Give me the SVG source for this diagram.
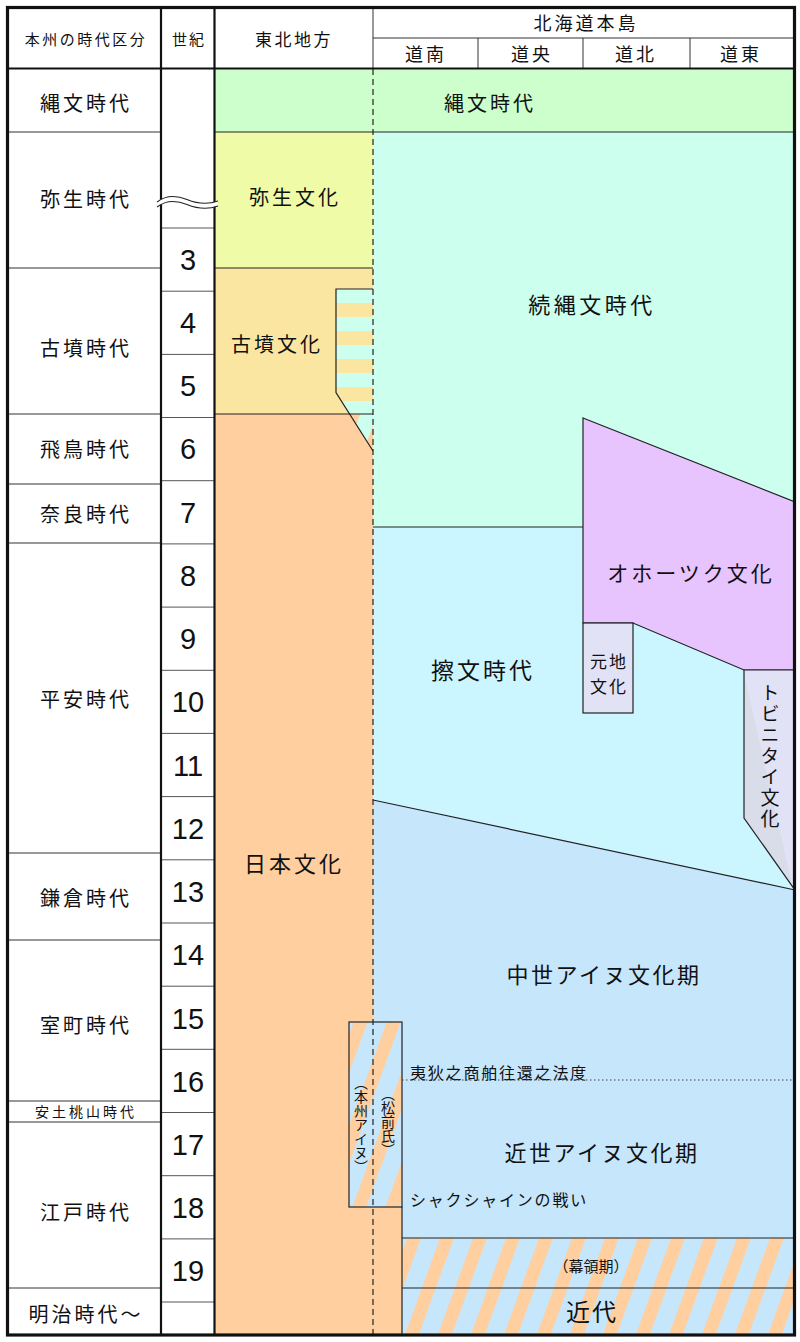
<svg xmlns="http://www.w3.org/2000/svg" width="800" height="1342" viewBox="0 0 800 1342">
<style>
.t{font-family:"Noto Sans CJK JP","Noto Sans",sans-serif;fill:#111;text-anchor:middle;dominant-baseline:central}
.l{text-anchor:start}
.n{font-family:"Liberation Sans","DejaVu Sans",sans-serif;font-size:29px;fill:#111;text-anchor:middle;dominant-baseline:central}
.v{writing-mode:vertical-rl}
.edge{fill:none;stroke:#222;stroke-width:1.2}
.st{stroke:#222;stroke-width:1.2}
.grid{fill:none;stroke:#333;stroke-width:1}
.cent{fill:none;stroke:#555;stroke-width:1}
.thick{fill:none;stroke:#111;stroke-width:2.2}
</style>
<defs>
<pattern id="diagA" patternUnits="userSpaceOnUse" width="31" height="20" patternTransform="rotate(20)">
<rect x="0" y="0" width="31" height="20" fill="#c6e6fc"/>
<rect x="0" y="0" width="13" height="20" fill="#ffcfa0"/>
</pattern>
<pattern id="diagB" patternUnits="userSpaceOnUse" width="31" height="20" patternTransform="rotate(20)">
<rect x="0" y="0" width="31" height="20" fill="#ccffee"/>
<rect x="0" y="0" width="15" height="20" fill="#ffcfa0"/>
</pattern>
<pattern id="horiz" patternUnits="userSpaceOnUse" x="0" y="289" width="40" height="28">
<rect x="0" y="0" width="40" height="14" fill="#ccffee"/>
<rect x="0" y="14" width="40" height="14" fill="#fae6a0"/>
</pattern>
</defs>
<rect x="0" y="0" width="800" height="1342" fill="#ffffff"/>

<g id="jomon">
<rect x="215" y="69" width="580" height="63" fill="#ccffcc"/>
<text class="t" x="490" y="102" font-size="20" letter-spacing="3">縄文時代</text>
</g>
<g id="yayoi">
<rect x="215" y="132" width="158" height="136" fill="#f0fba8"/>
<text class="t" x="295" y="196" font-size="20" letter-spacing="3">弥生文化</text>
</g>
<g id="kofun">
<rect x="215" y="268" width="158" height="146" fill="#fae6a0"/>
<text class="t" x="277" y="343" font-size="20" letter-spacing="3">古墳文化</text>
</g>
<g id="nihon">
<rect x="215" y="414" width="158" height="922" fill="#ffcfa0"/>
<rect x="373" y="1207" width="29" height="129" fill="#ffcfa0"/>
<text class="t" x="294" y="862" font-size="22" letter-spacing="3">日本文化</text>
</g>
<g id="zokujomon">
<rect x="373" y="132" width="422" height="395" fill="#ccffee"/>
<text class="t" x="592" y="303" font-size="22" letter-spacing="3.5">続縄文時代</text>
</g>
<g id="satsumon">
<polygon points="373,527 795,527 795,890 373,800" fill="#ccf6ff"/>
<text class="t" x="483" y="669" font-size="23" letter-spacing="3">擦文時代</text>
</g>
<g id="chusei">
<polygon points="373,800 795,890 795,1238 402,1238 402,1207 373,1207" fill="#c6e6fc"/>
<text class="t" x="604" y="973" font-size="22" letter-spacing="2.5">中世アイヌ文化期</text>
<text class="t" x="602" y="1151" font-size="22" letter-spacing="2.5">近世アイヌ文化期</text>
<text class="t l" x="410" y="1072" font-size="16" letter-spacing="1.8">夷狄之商舶往還之法度</text>
<text class="t l" x="410" y="1199" font-size="16" letter-spacing="1.8">シャクシャインの戦い</text>
</g>
<g id="okhotsk">
<polygon points="583,418 795,502 795,670 744,670 633,623 583,623" fill="#e8c4ff" class="st"/>
<text class="t" x="691" y="572" font-size="21" letter-spacing="3">オホーツク文化</text>
</g>
<g id="motochi">
<rect x="583" y="623" width="50" height="90" fill="#e2e2f6" class="st"/>
<text class="t" x="609" y="660" font-size="17" letter-spacing="2">元地</text>
<text class="t" x="609" y="685" font-size="17" letter-spacing="2">文化</text>
</g>
<g id="tobinitai">
<polygon points="744,670 795,670 795,890 744,818" fill="#e2e2f6"/>
<polygon points="744,674 792,884 744,818" fill="#d8dde9"/>
<polygon points="744,670 795,670 795,890 744,818" class="edge"/>
<text class="t v" x="770" y="757" font-size="19" letter-spacing="2">トビニタイ文化</text>
</g>
<g id="kofun-stripes">
<polygon points="336,289 373,289 373,414 349.6,414 336,392.5" fill="url(#horiz)"/>
<polygon points="349.6,414 373,414 373,451" fill="url(#diagB)"/>
<polyline points="373,289 336,289 336,392.5 373,451" class="edge"/>
</g>
<g id="honshu-ainu">
<rect x="349" y="1022" width="53" height="185" fill="url(#diagA)" class="st"/>
<text class="t v" x="361" y="1125" font-size="14">（本州アイヌ）</text>
<text class="t v" x="388" y="1122" font-size="14">（松前氏）</text>
</g>
<g id="bakuryo">
<rect x="402" y="1238" width="393" height="98" fill="url(#diagA)"/>
<text class="t" x="591" y="1265" font-size="15">（幕領期）</text>
</g>
<g id="kindai">
<text class="t" x="592" y="1310" font-size="24" letter-spacing="2">近代</text>
</g>

<g id="connectors">
<line x1="215" y1="132" x2="795" y2="132" class="edge"/>
<line x1="215" y1="268" x2="373" y2="268" class="edge"/>
<line x1="215" y1="414" x2="373" y2="414" class="edge"/>
<line x1="373" y1="527" x2="583" y2="527" class="edge"/>
<line x1="373" y1="800" x2="795" y2="890" class="edge"/>
<line x1="402" y1="1080" x2="795" y2="1080" stroke="#444" stroke-width="1" stroke-dasharray="1.5,2.5"/>
<line x1="402" y1="1207" x2="402" y2="1336" class="edge"/>
<line x1="402" y1="1238" x2="795" y2="1238" class="edge"/>
<line x1="402" y1="1288" x2="795" y2="1288" class="edge"/>
<line x1="373" y1="69" x2="373" y2="1336" stroke="#222" stroke-width="1.2" stroke-dasharray="6,4"/>
</g>

<g id="header">
<line x1="373" y1="7" x2="373" y2="69" class="grid"/>
<line x1="373" y1="38" x2="795" y2="38" class="grid"/>
<line x1="478" y1="38" x2="478" y2="69" class="grid"/>
<line x1="583" y1="38" x2="583" y2="69" class="grid"/>
<line x1="690" y1="38" x2="690" y2="69" class="grid"/>
<text class="t" x="86" y="38" font-size="15" letter-spacing="2.5">本州の時代区分</text>
<text class="t" x="189" y="38" font-size="15" letter-spacing="2">世紀</text>
<text class="t" x="294" y="38" font-size="17" letter-spacing="2.5">東北地方</text>
<text class="t" x="586" y="22" font-size="18" letter-spacing="3">北海道本島</text>
<text class="t" x="426" y="53" font-size="18" letter-spacing="3">道南</text>
<text class="t" x="532" y="53" font-size="18" letter-spacing="3">道央</text>
<text class="t" x="636" y="53" font-size="18" letter-spacing="3">道北</text>
<text class="t" x="741" y="53" font-size="18" letter-spacing="3">道東</text>
</g>

<g id="eras">
<line x1="8" y1="132" x2="161" y2="132" class="grid"/>
<line x1="8" y1="268" x2="161" y2="268" class="grid"/>
<line x1="8" y1="414" x2="161" y2="414" class="grid"/>
<line x1="8" y1="484" x2="161" y2="484" class="grid"/>
<line x1="8" y1="543" x2="161" y2="543" class="grid"/>
<line x1="8" y1="853" x2="161" y2="853" class="grid"/>
<line x1="8" y1="940" x2="161" y2="940" class="grid"/>
<line x1="8" y1="1101" x2="161" y2="1101" class="grid"/>
<line x1="8" y1="1122" x2="161" y2="1122" class="grid"/>
<line x1="8" y1="1288" x2="161" y2="1288" class="grid"/>
<text class="t" x="86" y="102" font-size="20" letter-spacing="3">縄文時代</text>
<text class="t" x="86" y="198" font-size="20" letter-spacing="3">弥生時代</text>
<text class="t" x="86" y="347" font-size="20" letter-spacing="3">古墳時代</text>
<text class="t" x="86" y="448" font-size="20" letter-spacing="3">飛鳥時代</text>
<text class="t" x="86" y="513" font-size="20" letter-spacing="3">奈良時代</text>
<text class="t" x="86" y="698" font-size="20" letter-spacing="3">平安時代</text>
<text class="t" x="86" y="897" font-size="20" letter-spacing="3">鎌倉時代</text>
<text class="t" x="86" y="1024" font-size="20" letter-spacing="3">室町時代</text>
<text class="t" x="86" y="1111" font-size="14" letter-spacing="3">安土桃山時代</text>
<text class="t" x="86" y="1211" font-size="20" letter-spacing="3">江戸時代</text>
<text class="t" x="86" y="1313" font-size="20" letter-spacing="3">明治時代～</text>
</g>

<g id="centuries">
<line x1="161" y1="228" x2="215" y2="228" class="cent"/>
<line x1="161" y1="291.2" x2="215" y2="291.2" class="cent"/>
<line x1="161" y1="354.4" x2="215" y2="354.4" class="cent"/>
<line x1="161" y1="417.5" x2="215" y2="417.5" class="cent"/>
<line x1="161" y1="480.7" x2="215" y2="480.7" class="cent"/>
<line x1="161" y1="543.9" x2="215" y2="543.9" class="cent"/>
<line x1="161" y1="607.1" x2="215" y2="607.1" class="cent"/>
<line x1="161" y1="670.3" x2="215" y2="670.3" class="cent"/>
<line x1="161" y1="733.4" x2="215" y2="733.4" class="cent"/>
<line x1="161" y1="796.6" x2="215" y2="796.6" class="cent"/>
<line x1="161" y1="859.8" x2="215" y2="859.8" class="cent"/>
<line x1="161" y1="923" x2="215" y2="923" class="cent"/>
<line x1="161" y1="986.2" x2="215" y2="986.2" class="cent"/>
<line x1="161" y1="1049.3" x2="215" y2="1049.3" class="cent"/>
<line x1="161" y1="1112.5" x2="215" y2="1112.5" class="cent"/>
<line x1="161" y1="1175.7" x2="215" y2="1175.7" class="cent"/>
<line x1="161" y1="1238.9" x2="215" y2="1238.9" class="cent"/>
<line x1="161" y1="1302" x2="215" y2="1302" class="cent"/>
<text class="n" x="188" y="260">3</text>
<text class="n" x="188" y="323">4</text>
<text class="n" x="188" y="386">5</text>
<text class="n" x="188" y="449">6</text>
<text class="n" x="188" y="513">7</text>
<text class="n" x="188" y="576">8</text>
<text class="n" x="188" y="639">9</text>
<text class="n" x="188" y="702">10</text>
<text class="n" x="188" y="766">11</text>
<text class="n" x="188" y="829">12</text>
<text class="n" x="188" y="892">13</text>
<text class="n" x="188" y="955">14</text>
<text class="n" x="188" y="1019">15</text>
<text class="n" x="188" y="1082">16</text>
<text class="n" x="188" y="1145">17</text>
<text class="n" x="188" y="1208">18</text>
<text class="n" x="188" y="1271">19</text>
</g>

<g id="frame">
<line x1="161" y1="7" x2="161" y2="1336" class="thick"/>
<line x1="214.5" y1="7" x2="214.5" y2="1336" class="thick"/>
<line x1="7" y1="68.5" x2="795" y2="68.5" class="thick"/>
<rect x="7.5" y="7.5" width="787" height="1327.5" fill="none" stroke="#111" stroke-width="3.2"/>
</g>

<g id="break">
<path d="M157,202 C166,195 176,195 187,199.5 S207,205 218,201 L218,206 C207,210 197,206 187,204.5 S166,200 157,207 Z" fill="#ffffff"/>
<path d="M157,202 C166,195 176,195 187,199.5 S207,205 218,201" fill="none" stroke="#222" stroke-width="1.1"/>
<path d="M157,207 C166,200 176,200 187,204.5 S207,210 218,206" fill="none" stroke="#222" stroke-width="1.1"/>
</g>
</svg>
